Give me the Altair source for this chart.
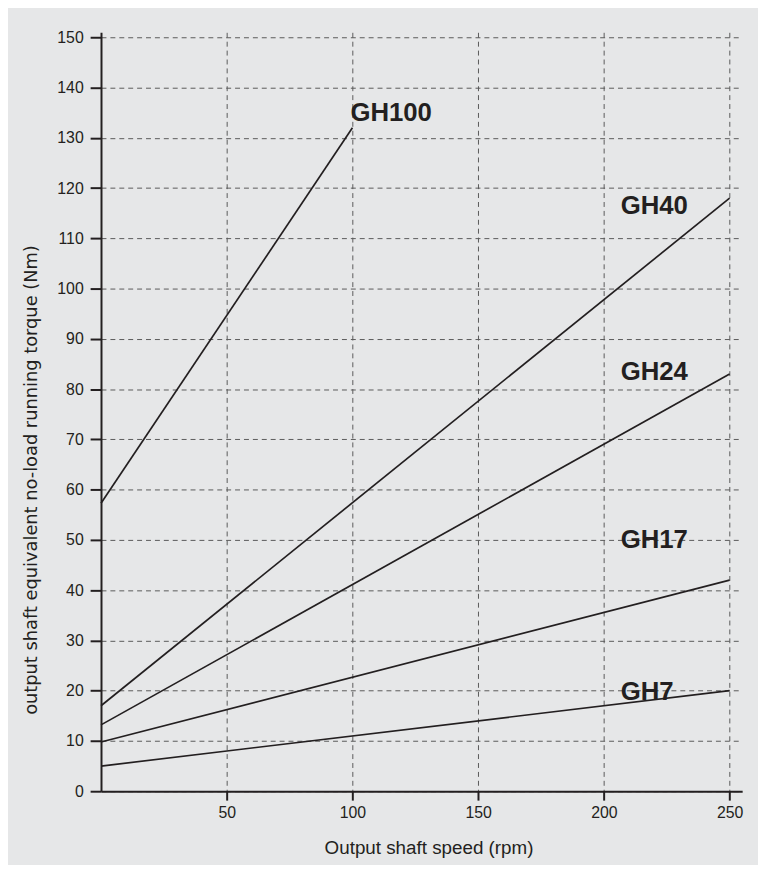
import altair as alt
import pandas as pd

series = ["GH100", "GH40", "GH24", "GH17", "GH7"]
x_start = [0, 0, 0, 0, 0]
x_end = [100, 250, 250, 250, 250]
y_start = [57.3, 17, 13.2, 9.8, 5]
y_end = [132, 118, 83, 42, 20]

label_x = [99.2, 206.7, 206.7, 206.7, 206.7]
label_y = [135, 116.4, 83.3, 50, 19.8]

x_ticks = [50, 100, 150, 200, 250]
y_ticks = list(range(0, 151, 10))

rows = []
for s, xs, xe, ys, ye in zip(series, x_start, x_end, y_start, y_end):
    rows.append({"series": s, "speed": xs, "torque": ys})
    rows.append({"series": s, "speed": xe, "torque": ye})
lines_df = pd.DataFrame(rows)
labels_df = pd.DataFrame({"series": series, "speed": label_x, "torque": label_y})

ink = "#231f20"
grid = "#5a5a5a"
xscale = alt.Scale(domain=[0, 255], nice=False, zero=False)
yscale = alt.Scale(domain=[0, 151], nice=False)

xaxis = alt.Axis(values=x_ticks, title="Output shaft speed (rpm)", grid=True,
                 gridDash=[5, 4], gridColor=grid, gridWidth=1,
                 domainColor=ink, domainWidth=2, tickColor=ink, tickWidth=2,
                 tickSize=9, labelPadding=5, labelFontSize=16, labelColor=ink,
                 labelFont="Liberation Sans", titleFont="Liberation Sans",
                 titleFontSize=19, titleFontWeight="normal", titleColor=ink,
                 titleX=331, titleY=63, titleAlign="center",
                 titleBaseline="alphabetic")
yaxis = alt.Axis(values=y_ticks, title="output shaft equivalent no-load running torque (Nm)",
                 grid=True, gridDash=[5, 4], gridColor=grid, gridWidth=1,
                 domainColor=ink, domainWidth=2, tickColor=ink, tickWidth=2,
                 tickSize=11, labelPadding=7, labelFontSize=16, labelColor=ink,
                 labelFont="Liberation Sans", titleFont="DejaVu Sans",
                 titleFontSize=18, titleFontWeight="normal", titleColor=ink,
                 titleX=-65, titleY=452, titleAngle=270, titleAlign="center",
                 titleBaseline="alphabetic")

lines = alt.Chart(lines_df).mark_line(color=ink, strokeWidth=1.7).encode(
    x=alt.X("speed:Q", scale=xscale, axis=xaxis),
    y=alt.Y("torque:Q", scale=yscale, axis=yaxis),
    detail="series:N",
)

labels = alt.Chart(labels_df).mark_text(
    align="left", baseline="middle", font="Liberation Sans", fontSize=26,
    fontWeight="bold", color=ink
).encode(
    x=alt.X("speed:Q", scale=xscale),
    y=alt.Y("torque:Q", scale=yscale),
    text="series:N",
)

chart = (lines + labels).properties(
    width=648, height=767,
    autosize=alt.AutoSizeParams(type="none"),
    padding={"left": 94, "top": 20, "right": 16, "bottom": 70},
    background="#e6e7e8",
).configure_view(stroke=None, fill="#e6e7e8")

chart.save("out.html", embed_options={"renderer": "svg", "actions": False})
